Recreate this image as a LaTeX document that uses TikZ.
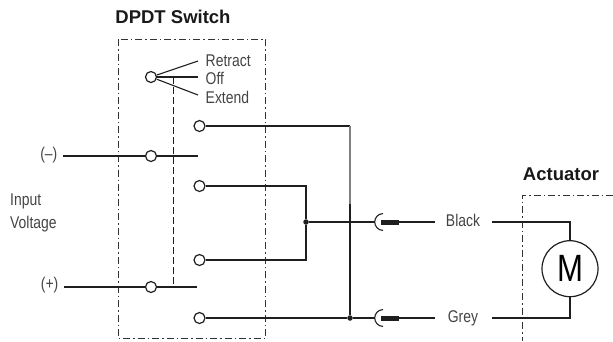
\documentclass[tikz,border=0pt]{standalone}
\usepackage{fontspec}
\setmainfont[FakeStretch=0.82]{Liberation Sans}
\newfontfamily\titlefont[FakeStretch=1.0]{Liberation Sans Bold}
\usetikzlibrary{calc}
\usetikzlibrary{positioning}
\definecolor{labelgrey}{HTML}{444444}
\tikzset{
    wire/.style={line width=1.7pt, color=black!88},
    thinwire/.style={line width=1.1pt, color=black!88},
    boxline/.style={line width=1pt, color=black!80, dash pattern=on 7pt off 3pt on 1.5pt off 3pt},
    contact/.style={circle, draw=black!88, line width=1.2pt, fill=white, inner sep=0pt, minimum size=11pt},
    junction/.style={circle, fill=black!88, inner sep=0pt, minimum size=5.5pt},
    lbl/.style={text=labelgrey, font=\fontsize{17}{19}\selectfont, inner sep=0pt},
    title/.style={text=black!90, font=\fontsize{18.5}{20}\titlefont, inner sep=0pt},
    pin/.style={line width=5pt, color=black!88}
}
\begin{document}
\begin{tikzpicture}[x=1pt,y=-1pt]
        \useasboundingbox (0,0) rectangle (613,341);

        % enclosures
        \draw[boxline] (118,39) rectangle (265.5,338.5);
        \draw[boxline] (613,195) -- (522.7,195) -- (522.7,341);
        \node[title] (switchtitle) at (173,17) {DPDT Switch};
        \node[title] (actuatortitle) at (561,174) {Actuator};

        % lever
        \coordinate (retractend) at (198,61);
        \coordinate (offend) at (198,77);
        \coordinate (extendend) at (198,95);
        \coordinate (minusend) at (198,156);
        \coordinate (plusend) at (197,287);
        \coordinate (minusstart) at (63,156);
        \coordinate (plusstart) at (64,287);
        \node[contact] (lever) at (151,77) {};
        \draw[thinwire] (lever) -- (retractend);
        \draw[wire] (lever) -- (offend);
        \draw[thinwire] (lever) -- (extendend);
        \node[lbl, anchor=west] (retract) at (205.5,61) {Retract};
        \node[lbl, anchor=west] (off) at (205.5,78) {Off};
        \node[lbl, anchor=west] (extend) at (205.5,97) {Extend};

        % poles
        \draw[wire] (minusstart) -- (minusend);
        \draw[wire] (plusstart) -- (plusend);
        \node[contact] (minuspole) at (151,156) {};
        \node[contact] (pluspole) at (151,287) {};
        \draw[thinwire, dash pattern=on 7pt off 3pt] (173.5,77) -- (173.5,287);
        \node[lbl, anchor=east] (minus) at (57.5,155) {(--)};
        \node[lbl, anchor=east] (plus) at (58.5,285) {(+)};
        \node[lbl, anchor=west] (input) at (10,201) {Input};
        \node[lbl, anchor=west] (voltage) at (10,224) {Voltage};

        % throws
        \node[contact] (throwa) at (199.5,126) {};
        \node[contact] (throwb) at (199.5,186) {};
        \node[contact] (throwc) at (199.5,260) {};
        \node[contact] (throwd) at (199.5,318) {};
        \node[junction] (midjoin) at (306,222) {};
        \node[junction] (lowjoin) at (350,318) {};
        \coordinate (cross) at (350,204);
        \draw[wire] (throwa) -- (350,126);
        \draw[line width=1.2pt, color=black!50] (350,126) -- (cross);
        \draw[wire] (cross) -- (lowjoin);
        \draw[wire] (throwb) -| (midjoin);
        \draw[wire] (throwc) -| (midjoin);
        \draw[wire] (throwd) -- (lowjoin);

        % plugs
        \coordinate (blacksocket) at (374.5,222);
        \coordinate (greysocket) at (374.5,318);
        \draw[wire] (midjoin) -- (blacksocket);
        \draw[wire] (lowjoin) -- (greysocket);
        \draw[thinwire] (383,213.5) .. controls (372,214.5) and (372,229.5) .. (383,230.5);
        \draw[thinwire] (383,309.5) .. controls (372,310.5) and (372,325.5) .. (383,326.5);
        \draw[pin] (381,222) -- (399,222);
        \draw[pin] (381,318) -- (399,318);
        \node[lbl] (black) at (463,220.5) {Black};
        \node[lbl] (grey) at (463,318) {Grey};
        \draw[wire] (399,222) -- (435,222);
        \draw[wire] (399,318) -- (435,318);

        % motor
        \node[circle, draw=black!88, line width=1.2pt, minimum size=56pt, inner sep=0pt, font=\fontsize{38}{40}\selectfont] (motor) at (570,268.7) {M};
        \coordinate (blackend) at (492,222);
        \coordinate (greyend) at (492,318);
        \draw[wire] (blackend) -| (motor.north);
        \draw[wire] (greyend) -| (motor.south);
    \end{tikzpicture}
\end{document}
